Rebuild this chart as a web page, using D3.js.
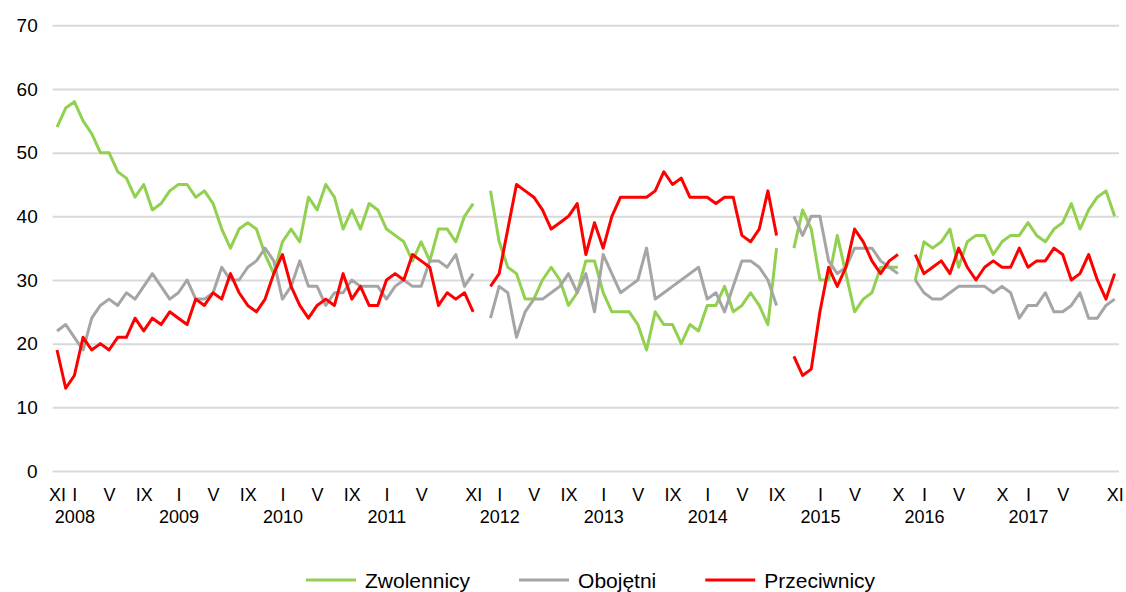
<!DOCTYPE html>
<html>
<head>
<meta charset="UTF-8">
<title>Zwolennicy, obojętni, przeciwnicy</title>
<script src="https://d3js.org/d3.v7.min.js"></script>
<style>
    body {
        margin: 0;
        background: #fff;
        font-family: "Liberation Sans", Arial, sans-serif;
    }
    .gridLines line {
        stroke: #d9d9d9;
        stroke-width: 2;
    }
    .gridLines .domain,
    .axis .domain,
    .axis line {
        display: none;
    }
    .axis text {
        fill: #000;
        font-family: "Liberation Sans", Arial, sans-serif;
    }
</style>
</head>
<body>
<svg id="chart" width="1126" height="592"></svg>
<script>
    // --- Data, one array per segment of each series
    const segmentStarts = ["2007-11", "2011-12", "2014-10", "2015-12"];

    const zwolennicy = [
        [54, 57, 58, 55, 53, 50, 50, 47, 46, 43, 45, 41, 42, 44, 45, 45, 43, 44, 42, 38, 35, 38, 39, 38, 34,
         31, 36, 38, 36, 43, 41, 45, 43, 38, 41, 38, 42, 41, 38, 37, 36, 33, 36, 33, 38, 38, 36, 40, 42],
        [44, 36, 32, 31, 27, 27, 30, 32, 30, 26, 28, 33, 33, 28, 25, 25, 25, 23, 19, 25, 23, 23, 20, 23, 22,
         26, 26, 29, 25, 26, 28, 26, 23, 35],
        [35, 41, 38, 30, 30, 37, 31, 25, 27, 28, 32, 32, 32],
        [30, 36, 35, 36, 38, 32, 36, 37, 37, 34, 36, 37, 37, 39, 37, 36, 38, 39, 42, 38, 41, 43, 44, 40]
    ];
    const obojetni = [
        [22, 23, 21, 19, 24, 26, 27, 26, 28, 27, 29, 31, 29, 27, 28, 30, 27, 27, 28, 32, 30, 30, 32, 33, 35,
         33, 27, 29, 33, 29, 29, 26, 28, 28, 30, 29, 29, 29, 27, 29, 30, 29, 29, 33, 33, 32, 34, 29, 31],
        [24, 29, 28, 21, 25, 27, 27, 28, 29, 31, 28, 31, 25, 34, 31, 28, 29, 30, 35, 27, 28, 29, 30, 31, 32,
         27, 28, 25, 29, 33, 33, 32, 30, 26],
        [40, 37, 40, 40, 33, 31, 32, 35, 35, 35, 33, 32, 31],
        [30, 28, 27, 27, 28, 29, 29, 29, 29, 28, 29, 28, 24, 26, 26, 28, 25, 25, 26, 28, 24, 24, 26, 27]
    ];
    const przeciwnicy = [
        [19, 13, 15, 21, 19, 20, 19, 21, 21, 24, 22, 24, 23, 25, 24, 23, 27, 26, 28, 27, 31, 28, 26, 25, 27,
         31, 34, 29, 26, 24, 26, 27, 26, 31, 27, 29, 26, 26, 30, 31, 30, 34, 33, 32, 26, 28, 27, 28, 25],
        [29, 31, 38, 45, 44, 43, 41, 38, 39, 40, 42, 34, 39, 35, 40, 43, 43, 43, 43, 44, 47, 45, 46, 43, 43,
         43, 42, 43, 43, 37, 36, 38, 44, 37],
        [18, 15, 16, 25, 32, 29, 32, 38, 36, 33, 31, 33, 34],
        [34, 31, 32, 33, 31, 35, 32, 30, 32, 33, 32, 32, 35, 32, 33, 33, 35, 34, 30, 31, 34, 30, 27, 31]
    ];

    const seriesNames = ["Zwolennicy", "Obojętni", "Przeciwnicy"];
    const seriesColors = ["#92d050", "#a5a5a5", "#ff0000"];

    // x axis: monthly categories, an empty category is inserted after these months
    const firstMonth = "2007-11";
    const lastMonth = "2017-11";
    const breaksAfter = ["2011-11", "2014-09"];

    const romans = ["I", "II", "III", "IV", "V", "VI", "VII", "VIII", "IX", "X", "XI", "XII"];
    const tickKeys = ["2007-11", "2008-01", "2008-05", "2008-09", "2009-01", "2009-05", "2009-09",
        "2010-01", "2010-05", "2010-09", "2011-01", "2011-05", "2011-11", "2012-01", "2012-05", "2012-09",
        "2013-01", "2013-05", "2013-09", "2014-01", "2014-05", "2014-09", "2015-01", "2015-05", "2015-10",
        "2016-01", "2016-05", "2016-10", "2017-01", "2017-05", "2017-11"];
    const yearKeys = ["2008-01", "2009-01", "2010-01", "2011-01", "2012-01", "2013-01", "2014-01",
        "2015-01", "2016-01", "2017-01"];
    const yTicks = [0, 10, 20, 30, 40, 50, 60, 70];

    // month helpers
    const toIndex = key => +key.slice(0, 4) * 12 + (+key.slice(5, 7) - 1);
    const toKey = n => `${Math.floor(n / 12)}-${String(n % 12 + 1).padStart(2, "0")}`;

    const categories = [];
    for (let n = toIndex(firstMonth); n <= toIndex(lastMonth); n++) {
        categories.push(toKey(n));
        if (breaksAfter.includes(toKey(n))) categories.push("gap " + toKey(n));
    }

    // --- Chart set up
    const svg = d3.select("svg#chart");
    const margin = {top: 25.3, right: 7, bottom: 121, left: 52.7};
    const width = +svg.attr("width");
    const height = +svg.attr("height");
    const chartWidth = width - margin.left - margin.right;
    const chartHeight = height - margin.top - margin.bottom;

    const xScale = d3.scalePoint()
        .domain(categories)
        .range([margin.left, margin.left + chartWidth])
        .padding(0.5);
    const yScale = d3.scaleLinear()
        .domain([0, 70])
        .range([margin.top + chartHeight, margin.top]);

    // gridlines
    svg.append("g")
        .attr("class", "gridLines")
        .attr("transform", `translate(${margin.left},0)`)
        .call(d3.axisLeft(yScale).tickValues(yTicks).tickSize(-chartWidth).tickFormat(""));

    // y axis labels
    svg.append("g")
        .attr("class", "axis")
        .attr("transform", `translate(${margin.left},0)`)
        .call(d3.axisLeft(yScale).tickValues(yTicks).tickSize(0).tickPadding(15))
        .selectAll("text")
        .attr("font-size", "19px");

    // x axis: months, then years
    svg.append("g")
        .attr("class", "axis")
        .attr("transform", `translate(0,${margin.top + chartHeight})`)
        .call(d3.axisBottom(xScale).tickValues(tickKeys).tickSize(0).tickPadding(17)
            .tickFormat(k => romans[+k.slice(5, 7) - 1]))
        .selectAll("text")
        .attr("font-size", "18px");

    svg.append("g")
        .attr("class", "axis")
        .attr("transform", `translate(0,${margin.top + chartHeight})`)
        .call(d3.axisBottom(xScale).tickValues(yearKeys).tickSize(0).tickPadding(39)
            .tickFormat(k => k.slice(0, 4)))
        .selectAll("text")
        .attr("font-size", "18px");

    // --- Lines
    const line = d3.line()
        .x(d => xScale(d.key))
        .y(d => yScale(d.value));

    [zwolennicy, obojetni, przeciwnicy].forEach((series, s) => {
        series.forEach((values, i) => {
            const start = toIndex(segmentStarts[i]);
            const points = values.map((v, j) => ({key: toKey(start + j), value: v}));
            svg.append("path")
                .datum(points)
                .attr("fill", "none")
                .attr("stroke", seriesColors[s])
                .attr("stroke-width", 3)
                .attr("stroke-linejoin", "round")
                .attr("d", line);
        });
    });

    // --- Legend
    const legend = svg.append("g").attr("id", "legend");
    let lx = 0;
    seriesNames.forEach((name, s) => {
        const item = legend.append("g").attr("transform", `translate(${lx},0)`);
        item.append("line")
            .attr("x1", 0).attr("x2", 50)
            .attr("y1", 0).attr("y2", 0)
            .attr("stroke", seriesColors[s])
            .attr("stroke-width", 3);
        const t = item.append("text")
            .attr("x", 59)
            .attr("y", 7.5)
            .attr("font-size", "21px")
            .attr("fill", "#000")
            .text(name);
        lx += 59 + t.node().getComputedTextLength() + 49;
    });
    legend.attr("transform", "translate(306,580)");
</script>
</body>
</html>
